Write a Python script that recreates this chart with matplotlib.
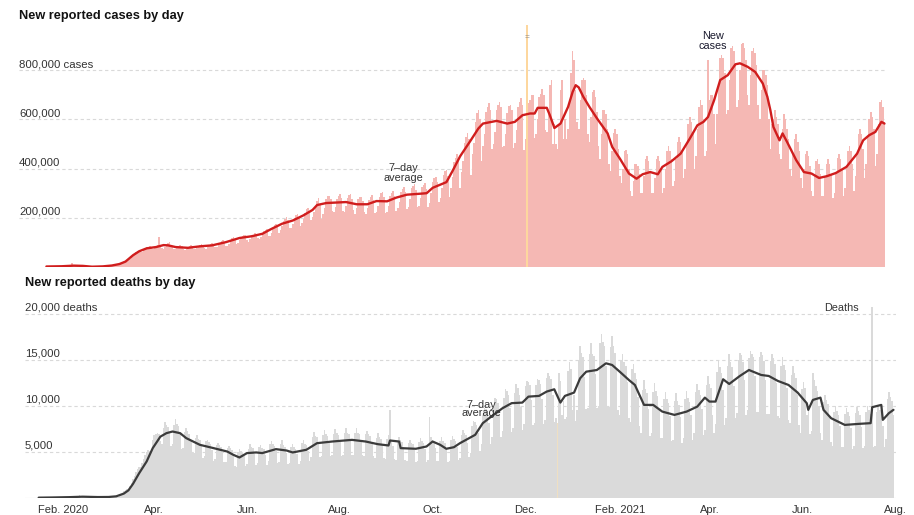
import numpy as np
import pandas as pd
import matplotlib
matplotlib.use('Agg')
import matplotlib.pyplot as plt
import matplotlib.dates as mdates
from matplotlib.transforms import blended_transform_factory

plt.rcParams['font.family'] = ['Liberation Sans', 'DejaVu Sans']

# ---------------- DATA ----------------
case_start = '2020-01-27'
cases_k = [  # daily new cases, thousands (Mon..Sun rows)
    0.8, 1.8, 1.5, 2.0, 1.7, 2.1, 2.6,          # 2020-01-27
    3.2, 3.9, 3.7, 3.2, 3.4, 2.7, 2.6,          # 02-03
    2.5, 2.0, 2.1, 15.1, 6.5, 2.6, 2.1,         # 02-10
    2.0, 1.9, 1.8, 0.6, 1.0, 0.9, 0.8,          # 02-17
    0.6, 0.9, 0.9, 1.2, 1.4, 1.8, 1.9,          # 02-24
    2.2, 2.4, 2.7, 2.4, 3.5, 3.9, 3.8,          # 03-02
    4.5, 5.2, 7.6, 7.2, 10.5, 10.9, 11.2,       # 03-09
    14.0, 16.5, 20.1, 26.0, 29.5, 32.1, 33.8,   # 03-16
    40.5, 44.0, 49.5, 62.0, 64.5, 66.0, 63.5,   # 03-23
    62.5, 74.5, 77.0, 79.5, 82.0, 84.5, 77.0,   # 03-30
    73, 76.5, 86, 88.5, 120, 84, 76,            # 04-06
    75, 80, 88, 96, 100, 90, 80,                # 04-13
    72, 75, 80, 86, 88, 84, 74,                 # 04-20
    68, 72, 80, 86, 88, 84, 75,                 # 04-27
    72, 76, 86, 90, 92, 88, 78,                 # 05-04
    74, 80, 90, 95, 97, 92, 80,                 # 05-11
    82, 88, 98, 104, 108, 100, 85,              # 05-18
    86, 92, 105, 116, 120, 112, 95,             # 05-25
    98, 108, 122, 128, 132, 130, 108,           # 06-01
    102, 115, 128, 132, 138, 135, 118,          # 06-08
    112, 122, 140, 145, 150, 155, 125,          # 06-15
    128, 140, 160, 170, 175, 170, 140,          # 06-22
    150, 165, 185, 195, 205, 190, 158,          # 06-29
    160, 175, 200, 210, 215, 205, 168,          # 07-06
    178, 195, 220, 235, 240, 225, 190,          # 07-13
    205, 225, 250, 270, 280, 255, 195,          # 07-20
    215, 240, 275, 290, 290, 275, 228,          # 07-27
    222, 245, 275, 290, 295, 280, 228,          # 08-03
    225, 248, 280, 292, 295, 278, 230,          # 08-10
    215, 240, 275, 285, 285, 270, 222,          # 08-17
    215, 238, 272, 285, 292, 272, 218,          # 08-24
    225, 250, 285, 300, 305, 285, 220,          # 08-31
    222, 250, 290, 300, 310, 290, 228,          # 09-07
    238, 265, 305, 318, 325, 305, 234,          # 09-14
    245, 275, 320, 330, 338, 315, 242,          # 09-21
    250, 282, 325, 335, 340, 318, 243,          # 09-28
    262, 300, 345, 360, 365, 345, 265,          # 10-05
    282, 320, 375, 390, 395, 370, 283,          # 10-12
    320, 365, 425, 445, 460, 430, 320,          # 10-19
    385, 430, 505, 530, 545, 520, 375,          # 10-26
    460, 505, 590, 625, 640, 600, 430,          # 11-02
    490, 540, 630, 650, 665, 640, 480,          # 11-09
    500, 550, 640, 660, 670, 650, 488,          # 11-16
    490, 540, 625, 655, 660, 640, 485,          # 11-23
    505, 555, 650, 670, 685, 660, 475,          # 11-30
    520, 565, 665, 680, 700, 700, 524,          # 12-07
    540, 600, 690, 705, 725, 700, 555,          # 12-14
    550, 640, 740, 760, 500, 580, 500,          # 12-21
    480, 580, 720, 760, 520, 600, 520,          # 12-28
    560, 660, 790, 880, 840, 720, 590,          # 2021-01-04
    560, 680, 760, 770, 760, 700, 540,          # 01-11
    510, 610, 710, 720, 690, 630, 490,          # 01-18
    440, 540, 640, 640, 620, 560, 420,          # 01-25
    390, 470, 545, 560, 540, 480, 370,          # 02-01
    340, 400, 470, 475, 460, 400, 310,          # 02-08
    290, 350, 420, 420, 410, 380, 300,          # 02-15
    300, 370, 440, 450, 430, 390, 300,          # 02-22
    300, 360, 440, 450, 430, 400, 300,          # 03-01
    320, 400, 470, 490, 470, 440, 330,          # 03-08
    350, 440, 510, 530, 510, 470, 360,          # 03-15
    400, 500, 580, 610, 590, 540, 400,          # 03-22
    450, 560, 650, 680, 660, 600, 450,          # 03-29
    470, 840, 680, 700, 700, 620, 500,          # 04-05
    620, 730, 850, 860, 850, 790, 620,          # 04-12
    640, 760, 890, 900, 880, 820, 650,          # 04-19
    680, 800, 905, 910, 890, 840, 700,          # 04-26
    660, 780, 880, 890, 870, 820, 660,          # 05-03
    600, 720, 800, 800, 780, 740, 600,          # 05-10
    480, 580, 600, 640, 610, 580, 460,          # 05-17
    440, 560, 620, 600, 560, 520, 400,          # 05-24
    370, 460, 520, 540, 510, 470, 360,          # 05-31
    320, 400, 460, 470, 450, 410, 310,          # 06-07
    290, 370, 430, 440, 420, 380, 290,          # 06-14
    290, 370, 420, 440, 420, 380, 280,          # 06-21
    300, 385, 445, 460, 440, 400, 290,          # 06-28
    320, 410, 470, 490, 470, 420, 310,          # 07-05
    370, 460, 540, 560, 540, 480, 360,          # 07-12
    420, 530, 600, 630, 610, 560, 410,          # 07-19
    460, 580, 670, 680, 650, 590,               # 07-26
]

case_avg_dates = [
    '2020-01-27', '2020-02-06', '2020-02-14', '2020-02-20', '2020-02-26', '2020-03-04',
    '2020-03-10', '2020-03-15', '2020-03-19', '2020-03-24', '2020-03-28', '2020-04-02',
    '2020-04-08', '2020-04-13', '2020-04-16', '2020-04-21', '2020-04-29', '2020-05-07',
    '2020-05-15', '2020-05-24', '2020-06-02', '2020-06-10', '2020-06-17', '2020-06-23',
    '2020-06-30', '2020-07-07', '2020-07-14', '2020-07-20', '2020-07-23', '2020-07-29',
    '2020-08-11', '2020-08-18', '2020-08-25', '2020-08-31', '2020-09-07', '2020-09-13',
    '2020-09-20', '2020-09-29', '2020-10-03', '2020-10-07', '2020-10-16', '2020-10-20',
    '2020-10-25', '2020-11-01', '2020-11-06', '2020-11-09', '2020-11-18', '2020-11-25',
    '2020-11-30', '2020-12-05', '2020-12-10', '2020-12-13', '2020-12-15', '2020-12-21',
    '2020-12-23', '2020-12-26', '2020-12-30', '2021-01-04', '2021-01-07', '2021-01-09',
    '2021-01-11', '2021-01-14', '2021-01-18', '2021-01-23', '2021-01-30', '2021-02-02',
    '2021-02-07', '2021-02-13', '2021-02-18', '2021-02-22', '2021-02-27', '2021-03-04',
    '2021-03-07', '2021-03-13', '2021-03-19', '2021-03-25', '2021-03-30', '2021-04-03',
    '2021-04-06', '2021-04-10', '2021-04-14', '2021-04-19', '2021-04-24', '2021-04-27',
    '2021-05-02', '2021-05-07', '2021-05-12', '2021-05-15', '2021-05-17', '2021-05-19',
    '2021-05-23', '2021-05-25', '2021-05-28', '2021-06-03', '2021-06-08', '2021-06-13',
    '2021-06-18', '2021-06-23', '2021-06-29', '2021-07-06', '2021-07-13', '2021-07-17',
    '2021-07-21', '2021-07-25', '2021-07-29', '2021-07-31',
]
case_avg_k = [
    2, 3, 5.5, 4.5, 1.2, 2.5,
    6, 12, 22, 48, 64, 76,
    81, 89, 88, 81, 78, 84,
    88, 101, 118, 125, 135, 155,
    176, 189, 210, 232, 252, 260,
    264, 255, 255, 268, 267, 282,
    294, 298, 300, 322, 345, 390,
    450, 515, 563, 583, 594, 583,
    590, 617, 624, 624, 647, 647,
    617, 565, 583, 651, 712, 739,
    730, 692, 651, 604, 543, 488,
    441, 380, 359, 377, 386, 377,
    407, 430, 461, 522, 576, 590,
    610, 678, 760, 780, 824, 828,
    814, 793, 746, 692, 637, 569,
    515, 543, 508, 434, 386, 380,
    362, 369, 382, 407, 461, 515,
    536, 549, 590, 583,
]
case_outlier_date = '2020-12-08'   # truncated bar (value beyond the axis)
case_outlier_k = 1000

death_start = '2020-01-16'
deaths = [
    2, 3, 3, 5,                                          # 2020-01-16
    8, 9, 17, 9, 15, 15, 24,                             # 01-20
    26, 26, 38, 43, 46, 45, 57,                          # 01-27
    64, 66, 73, 73, 86, 89, 97,                          # 02-03
    108, 97, 254, 13, 143, 142, 106,                     # 02-10
    98, 139, 115, 118, 109, 97, 150,                     # 02-17
    71, 64, 37, 58, 68, 49, 56,                          # 02-24
    68, 75, 96, 98, 110, 115, 105,                       # 03-02
    300, 400, 550, 700, 850, 950, 1000,                  # 03-09
    1300, 1600, 2000, 2400, 2800, 3100, 3300,            # 03-16
    3300, 3800, 4200, 4600, 5000, 5200, 5100,            # 03-23
    5000, 6300, 6800, 6900, 7100, 6900, 6200,            # 03-30
    5800, 7600, 8200, 7900, 7700, 7100, 5600,            # 04-06
    5900, 7900, 8600, 8000, 7800, 6900, 5300,            # 04-13
    5400, 7200, 7600, 7300, 6900, 6300, 5000,            # 04-20
    4900, 6500, 6800, 6400, 6300, 5600, 4300,            # 04-27
    4500, 6200, 6300, 6100, 5900, 5200, 4000,            # 05-04
    4200, 5700, 6000, 5700, 5500, 5000, 3900,            # 05-11
    3900, 5400, 5600, 5400, 5200, 4700, 3400,            # 05-18
    3300, 5000, 5300, 5100, 4900, 4500, 3500,            # 05-25
    3700, 5300, 5800, 5500, 5400, 4800, 3600,            # 06-01
    3800, 5500, 5700, 5400, 5300, 4700, 3600,            # 06-08
    4000, 5900, 6200, 5800, 5600, 5100, 3800,            # 06-15
    3900, 5800, 6300, 5700, 5500, 4900, 3700,            # 06-22
    3800, 5500, 5900, 5500, 5300, 4800, 3700,            # 06-29
    4000, 6000, 6300, 5800, 5700, 5100, 4000,            # 07-06
    4400, 6600, 7200, 6700, 6600, 5900, 4400,            # 07-13
    4500, 6800, 7400, 6900, 6700, 6000, 4500,            # 07-20
    4600, 6900, 7500, 7000, 6800, 6100, 4500,            # 07-27
    4700, 7000, 7600, 7100, 6900, 6200, 4600,            # 08-03
    4700, 7100, 7600, 7100, 6900, 6200, 4600,            # 08-10
    4500, 6900, 7300, 6900, 6700, 6000, 4500,            # 08-17
    4300, 6500, 7000, 6600, 6400, 5700, 4300,            # 08-24
    4200, 6400, 6800, 9600, 6200, 5600, 4200,            # 08-31
    4100, 6200, 6600, 6300, 6100, 5500, 4100,            # 09-07
    4000, 6000, 6300, 6000, 5800, 5200, 3900,            # 09-14
    4000, 6100, 6500, 6200, 6000, 5300, 3900,            # 09-21
    4100, 8800, 6600, 6300, 6100, 5400, 4000,            # 09-28
    4000, 6200, 6600, 6200, 6000, 5300, 3900,            # 10-05
    4000, 6300, 6700, 6400, 6200, 5500, 4100,            # 10-12
    4300, 6800, 7400, 7000, 6800, 6000, 4400,            # 10-19
    4900, 7800, 8400, 8200, 7900, 7000, 5100,            # 10-26
    5800, 9000, 9800, 9700, 9400, 8100, 5800,            # 11-02
    6600, 10000, 10900, 10700, 10300, 9000, 6600,        # 11-09
    7300, 10900, 11800, 11600, 11200, 9800, 7200,        # 11-16
    7600, 11400, 12400, 12000, 11200, 9900, 7400,        # 11-23
    8000, 12200, 12700, 12600, 12300, 10600, 7900,       # 11-30
    8100, 12300, 12900, 12800, 12400, 10800, 8000,       # 12-07
    8500, 13000, 13600, 13300, 12900, 11200, 8300,       # 12-14
    8700, 8150, 13600, 12700, 9000, 10500, 8600,         # 12-21
    8800, 13800, 14800, 14000, 9500, 11200, 8400,        # 12-28
    9600, 15000, 16500, 15800, 15300, 13200, 9700,       # 2021-01-04
    9800, 15700, 16800, 15600, 15400, 13500, 9800,       # 01-11
    10000, 16800, 17800, 17000, 16500, 14300, 10000,     # 01-18
    9900, 16400, 17600, 16500, 15800, 13900, 9500,       # 01-25
    9000, 15000, 15600, 14800, 14400, 12600, 8700,       # 02-01
    8300, 14000, 14600, 13600, 12900, 11000, 7800,       # 02-08
    7000, 11700, 12800, 11800, 11400, 9700, 6700,        # 02-15
    7000, 11500, 12500, 11600, 11100, 9500, 6500,        # 02-22
    6500, 10800, 11500, 10800, 10300, 8900, 6200,        # 03-01
    6300, 10500, 11400, 10500, 10100, 8800, 6000,        # 03-08
    6500, 10800, 11600, 10900, 10400, 9000, 6300,        # 03-15
    7000, 11500, 12400, 11700, 11200, 9700, 6800,        # 03-22
    7400, 12300, 13300, 12400, 12000, 9000, 7000,        # 03-29
    8000, 13700, 15000, 14200, 13600, 11700, 7900,       # 04-05
    8700, 14300, 15600, 14800, 14200, 12200, 8700,       # 04-12
    9200, 15000, 15800, 15500, 14800, 12800, 9000,       # 04-19
    9500, 15200, 16000, 15600, 15300, 13300, 9300,       # 04-26
    9300, 15300, 15900, 15500, 14900, 12800, 9100,       # 05-03
    9100, 14900, 15600, 15200, 14600, 12500, 8900,       # 05-10
    8700, 14300, 15300, 14500, 13900, 12000, 8500,       # 05-17
    8100, 13400, 14300, 13600, 13000, 11200, 7900,       # 05-24
    7100, 11800, 12600, 12000, 9000, 9800, 6900,         # 05-31
    7300, 13600, 12800, 12200, 11600, 10000, 7000,       # 06-07
    6300, 10400, 11200, 10600, 10200, 8700, 6100,        # 06-14
    5600, 9300, 10000, 9400, 9000, 7800, 5500,           # 06-21
    5500, 9100, 9800, 9300, 8900, 7600, 5300,            # 06-28
    5600, 9200, 9900, 9400, 9000, 7700, 5400,            # 07-05
    5600, 9300, 10000, 9500, 9100, 20800, 5500,          # 07-12
    5600, 9300, 10000, 9500, 9100, 7800, 5500,           # 07-19
    6400, 10800, 11500, 11000, 10500, 9000,              # 07-26
]

death_avg_dates = [
    '2020-01-16', '2020-01-25', '2020-02-05', '2020-02-14', '2020-02-24', '2020-03-02',
    '2020-03-07', '2020-03-12', '2020-03-15', '2020-03-18', '2020-03-22', '2020-03-27',
    '2020-03-31', '2020-04-05', '2020-04-09', '2020-04-13', '2020-04-18', '2020-04-22',
    '2020-05-01', '2020-05-10', '2020-05-19', '2020-05-23', '2020-05-27', '2020-06-01',
    '2020-06-07', '2020-06-11', '2020-06-20', '2020-06-27', '2020-07-01', '2020-07-10',
    '2020-07-17', '2020-07-27', '2020-08-09', '2020-08-18', '2020-08-26', '2020-09-02',
    '2020-09-03', '2020-09-09', '2020-09-10', '2020-09-20', '2020-09-27', '2020-10-01',
    '2020-10-06', '2020-10-10', '2020-10-15', '2020-10-19', '2020-10-29', '2020-11-03',
    '2020-11-10', '2020-11-16', '2020-11-22', '2020-11-29', '2020-12-03', '2020-12-10',
    '2020-12-15', '2020-12-20', '2020-12-24', '2020-12-27', '2021-01-02', '2021-01-06',
    '2021-01-10', '2021-01-17', '2021-01-23', '2021-01-27', '2021-02-01', '2021-02-07',
    '2021-02-11', '2021-02-17', '2021-02-23', '2021-03-01', '2021-03-09', '2021-03-17',
    '2021-03-24', '2021-03-29', '2021-04-01', '2021-04-05', '2021-04-10', '2021-04-14',
    '2021-04-21', '2021-04-27', '2021-05-05', '2021-05-10', '2021-05-16', '2021-05-23',
    '2021-05-29', '2021-06-04', '2021-06-05', '2021-06-08', '2021-06-13', '2021-06-15',
    '2021-06-20', '2021-06-29', '2021-07-08', '2021-07-16', '2021-07-17', '2021-07-23',
    '2021-07-24', '2021-07-28', '2021-07-31',
]
death_avg = [
    5, 25, 60, 110, 70, 80,
    150, 450, 800, 1500, 2650, 3950,
    5400, 6650, 7030, 7210, 7030, 6490,
    5760, 5400, 5030, 4670, 4380, 4860,
    4930, 4860, 5290, 5140, 4930, 5220,
    5940, 6120, 6300, 6120, 5830, 5690,
    6230, 6120, 5400, 5330, 5580, 6120,
    5760, 5330, 5500, 5940, 6850, 8120,
    9020, 9750, 10300, 10360, 11010, 11090,
    11560, 11810, 10360, 11090, 11450, 13010,
    13730, 13910, 14640, 14460, 13730, 12830,
    12280, 10110, 10110, 9380, 9020, 9380,
    9920, 10900, 10470, 10470, 12900, 12390,
    13260, 13910, 13370, 13260, 12720, 12280,
    11450, 10290, 9570, 10650, 10900, 9570,
    8660, 7930, 8040, 8120, 9860, 10110,
    8480, 9210, 9570,
]
death_outlier_date = '2020-12-22'
death_outlier = 8150

case_ticks = [200000, 400000, 600000, 800000]
case_tick_labels = ['200,000', '400,000', '600,000', '800,000 cases']
death_ticks = [5000, 10000, 15000, 20000]
death_tick_labels = ['5,000', '10,000', '15,000', '20,000 deaths']
month_ticks = ['2020-02-01', '2020-04-01', '2020-06-01', '2020-08-01', '2020-10-01',
               '2020-12-01', '2021-02-01', '2021-04-01', '2021-06-01', '2021-08-01']
month_labels = ['Feb. 2020', 'Apr.', 'Jun.', 'Aug.', 'Oct.', 'Dec.',
                'Feb. 2021', 'Apr.', 'Jun.', 'Aug.']

# ---------------- STYLE ----------------
W, H = 914, 515
PINK = '#f5b8b4'
RED = '#d01d1d'
GRAY_BAR = '#dadada'
DARK = '#3b3b3b'
GRID = '#d9d9d9'
TXT = '#333333'

fig = plt.figure(figsize=(W / 100, H / 100), dpi=100)


def px_axes(l, t, r, b):
    return fig.add_axes([l / W, 1 - b / H, (r - l) / W, (b - t) / H])


base = mdates.date2num(np.datetime64('2020-02-01'))
PXD = 1.521  # pixels per day

# ---- top panel: cases
ax1 = px_axes(19, 25, 887, 267)
c_dates = pd.date_range(case_start, periods=len(cases_k), freq='D')
c_vals = np.array(cases_k) * 1000
ax1.bar(c_dates, c_vals, width=1.0, color=PINK, linewidth=0, zorder=2)
ax1.bar(pd.to_datetime([case_outlier_date]), [case_outlier_k * 1000], width=0.9,
        color='#fdd79e', linewidth=0, zorder=2.5)
ax1.plot(pd.to_datetime(case_avg_dates), np.array(case_avg_k) * 1000, color=RED,
         lw=1.7, zorder=3, solid_joinstyle='round', solid_capstyle='round')
ax1.set_ylim(0, (267 - 25) / 49.2 * 200000)
ax1.set_xlim(base + (19 - 54) / PXD, base + (887 - 54) / PXD)
ax1.text(mdates.date2num(np.datetime64(case_outlier_date)), 930000, '=',
         ha='center', va='center', fontsize=6, color='#888888', zorder=4)

# ---- bottom panel: deaths
ax2 = px_axes(25, 300, 896, 497.7)
d_dates = pd.date_range(death_start, periods=len(deaths), freq='D')
ax2.bar(d_dates, deaths, width=1.0, color=GRAY_BAR, linewidth=0, zorder=2)
ax2.bar(pd.to_datetime([death_outlier_date]), [death_outlier], width=0.9,
        color='#efdfc2', linewidth=0, zorder=2.5)
ax2.plot(pd.to_datetime(death_avg_dates), death_avg, color=DARK, lw=1.6, zorder=3,
         solid_joinstyle='round', solid_capstyle='round')
ax2.set_ylim(0, (497.7 - 300) / 45.9 * 5000)
ax2.set_xlim(base + (25 - 63) / PXD, base + (896 - 63) / PXD)
ax2.axhline(0, color='#cfcfcf', lw=0.8, zorder=1)

for ax, ticks, labels in ((ax1, case_ticks, case_tick_labels),
                          (ax2, death_ticks, death_tick_labels)):
    for s in ax.spines.values():
        s.set_visible(False)
    ax.set_yticks([])
    ax.tick_params(axis='x', length=0)
    ax.patch.set_alpha(0)
    tr = blended_transform_factory(ax.transAxes, ax.transData)
    for v, lab in zip(ticks, labels):
        ax.axhline(v, color=GRID, lw=0.8, ls=(0, (3, 2.5)), zorder=1)
        ax.annotate(lab, xy=(0, v), xycoords=tr, xytext=(0, 2.3),
                    textcoords='offset points', ha='left', va='baseline',
                    fontsize=8.2, color=TXT)

ax1.set_xticks([])
ax2.set_xticks(pd.to_datetime(month_ticks))
ax2.set_xticklabels(month_labels, fontsize=8, color=TXT)
ax2.tick_params(axis='x', pad=5)

# ---- titles
fig.text(19 / W, 1 - 16 / H, 'New reported cases by day', fontsize=9.2,
         fontweight='bold', color='#121212', va='center', ha='left')
fig.text(25 / W, 1 - 283 / H, 'New reported deaths by day', fontsize=9.2,
         fontweight='bold', color='#121212', va='center', ha='left')

# ---- annotations
ax1.text(pd.Timestamp('2020-09-18'), 382000, '7\u2013day\naverage', ha='center',
         va='center', fontsize=7.8, color=TXT, linespacing=1.0, zorder=5)
ax1.text(pd.Timestamp('2021-04-09'), 920000, 'New\ncases', ha='center',
         va='center', fontsize=7.8, color='#1a1a2e', linespacing=1.0, zorder=5)
ax2.text(pd.Timestamp('2020-11-02'), 9660, '7\u2013day\naverage', ha='center',
         va='center', fontsize=7.8, color=TXT, linespacing=0.85, zorder=5)
ax2.text(pd.Timestamp('2021-06-27'), 20660, 'Deaths', ha='center',
         va='center', fontsize=7.8, color=TXT, zorder=5,
         bbox=dict(facecolor='white', edgecolor='none', pad=0.5))

fig.savefig('out.png', dpi=100)
